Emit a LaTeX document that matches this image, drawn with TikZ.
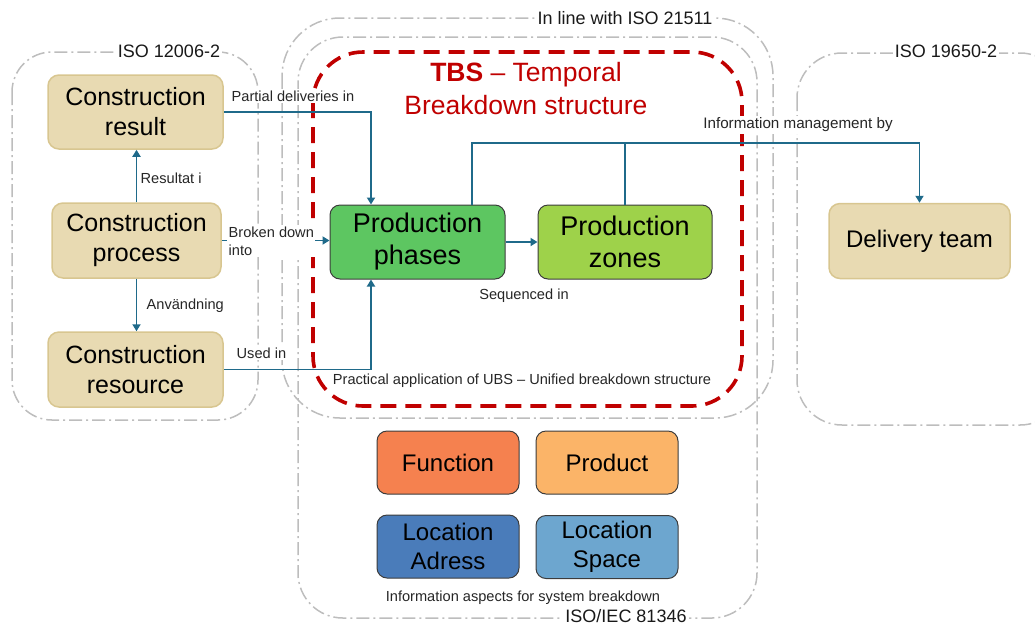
\documentclass[tikz,border=0pt]{standalone}
\usepackage{fontspec}
\setmainfont{Liberation Sans}
\usetikzlibrary{arrows.meta,calc}

\definecolor{tanfill}{HTML}{E8DAB2}
\definecolor{tanedge}{HTML}{D8C690}
\definecolor{phasefill}{HTML}{5DC661}
\definecolor{zonefill}{HTML}{9ED24A}
\definecolor{funcfill}{HTML}{F5814F}
\definecolor{prodfill}{HTML}{FBB468}
\definecolor{adrfill}{HTML}{4A7CBA}
\definecolor{spacefill}{HTML}{6DA6CF}
\definecolor{linkblue}{HTML}{1F6A8A}
\definecolor{tbsred}{HTML}{C00000}
\definecolor{framegray}{HTML}{BDBDBD}
\definecolor{boxedge}{HTML}{3C3C3C}

\tikzset{
  framebox/.style={draw=framegray, line width=1.5pt, dash pattern=on 13pt off 4pt on 2pt off 4pt},
  framelabel/.style={fill=white, inner sep=2pt, font=\fontsize{18}{20}\selectfont, text=black!90},
  tanbox/.style={draw=tanedge, fill=tanfill, line width=1.5pt, rounded corners=11pt, align=center,
    font=\fontsize{25}{30}\selectfont, inner sep=0pt},
  colbox/.style={draw=boxedge, line width=1pt, rounded corners=10pt, align=center, inner sep=0pt},
  conn/.style={draw=linkblue, line width=1.8pt, -{Triangle[width=8pt,length=7pt]}},
  wire/.style={draw=linkblue, line width=1.8pt},
  linklabel/.style={fill=white, inner sep=1.5pt, font=\fontsize{14.6}{18}\selectfont, text=black!85},
}

\begin{document}
\begin{tikzpicture}[x=1pt,y=-1pt]
  \useasboundingbox (0,0) rectangle (1035,625);
  \clip (0,0) rectangle (1035,625);

  % standards frames
  \draw[framebox, rounded corners=40pt] (12,52) rectangle (258,420);
  \draw[framebox, rounded corners=58pt] (282,18) rectangle (773,418);
  \draw[framebox, rounded corners=45pt] (298,37) rectangle (757,618);
  \draw[framebox, rounded corners=45pt] (797,53) rectangle (1065,425);

  % TBS boundary
  \draw[tbsred, line width=3.6pt, dash pattern=on 16pt off 9pt, rounded corners=50pt]
    (313,52) rectangle (742,406);

  \node[framelabel] (lab12006) at (169,51) {ISO 12006-2};
  \node[framelabel] (lab21511) at (625,18) {In line with ISO 21511};
  \node[framelabel] (lab81346) at (626,616) {ISO/IEC 81346};
  \node[framelabel] (lab19650) at (946,51) {ISO 19650-2};

  % ISO 12006-2 boxes
  \node[tanbox, minimum width=175pt, minimum height=74pt] (result) at (135.5,112) {Construction\\result};
  \node[tanbox, minimum width=169pt, minimum height=75pt] (process) at (136.5,240.5) {Construction\\process};
  \node[tanbox, minimum width=175pt, minimum height=75pt] (resource) at (135.5,369.5) {Construction\\resource};

  % TBS boxes
  \node[colbox, fill=phasefill, minimum width=175pt, minimum height=74pt,
        font=\fontsize{27}{32}\selectfont] (phases) at (417.5,242) {Production\\phases};
  \node[colbox, fill=zonefill, minimum width=174pt, minimum height=74pt,
        font=\fontsize{27}{32}\selectfont] (zones) at (625,242) {Production\\zones};

  % delivery team
  \node[tanbox, minimum width=181pt, minimum height=75pt, font=\fontsize{24}{28}\selectfont]
    (delivery) at (919.5,241) {Delivery team};

  % information aspects
  \node[colbox, fill=funcfill, minimum width=142pt, minimum height=63pt,
        font=\fontsize{24}{29}\selectfont] (function) at (448,462.5) {Function};
  \node[colbox, fill=prodfill, minimum width=142pt, minimum height=63pt,
        font=\fontsize{24}{29}\selectfont] (product) at (607,462.5) {Product};
  \node[colbox, fill=adrfill, minimum width=142pt, minimum height=63pt,
        font=\fontsize{24}{29}\selectfont] (adress) at (448,546.5) {Location\\Adress};
  \node[colbox, fill=spacefill, minimum width=142pt, minimum height=63pt,
        font=\fontsize{24}{29}\selectfont] (space) at (607,547) {Location\\Space};

  % connectors
  \coordinate (bus) at (700,143);
  \draw[conn] (result.east) -| ([xshift=-46.5pt]phases.north);
  \draw[conn] (process.east) -- (process.east -| phases.west);
  \draw[conn] (resource.east) -| ([xshift=-46.5pt]phases.south);
  \draw[conn] (process.north) -- (process.north |- result.south);
  \draw[conn] (process.south) -- (process.south |- resource.north);
  \draw[conn] (phases.east) -- (zones.west);
  \draw[conn] ([xshift=54.5pt]phases.north) |- (bus) -| (delivery.north);
  \draw[wire] (zones.north) -- (zones.north |- bus);

  % connector labels
  \node[linklabel, anchor=west] (lpartial) at (230,96) {Partial deliveries in};
  \node[linklabel, anchor=west, align=left, font=\fontsize{14.6}{18}\selectfont] (lbroken) at (227,241) {Broken down\\into};
  \node[linklabel, anchor=west] (lused) at (235,353) {Used in};
  \node[linklabel, anchor=west] (lresult) at (139,178) {Resultat i};
  \node[linklabel, anchor=west] (luse) at (145,306) {Användning};
  \node[linklabel] (lseq) at (524,296) {Sequenced in};
  \node[linklabel, font=\fontsize{15.2}{18}\selectfont] (linfo) at (798,125) {Information management by};
  \node[linklabel, fill=none] (lubs) at (522,381) {Practical application of UBS -- Unified breakdown structure};
  \node[linklabel] (laspects) at (523,598) {Information aspects for system breakdown};

  % TBS title
  \node[text=tbsred, align=center, font=\fontsize{26.5}{33}\selectfont] (tbstitle) at (526,89)
    {\textbf{TBS} -- Temporal\\Breakdown structure};
\end{tikzpicture}
\end{document}
